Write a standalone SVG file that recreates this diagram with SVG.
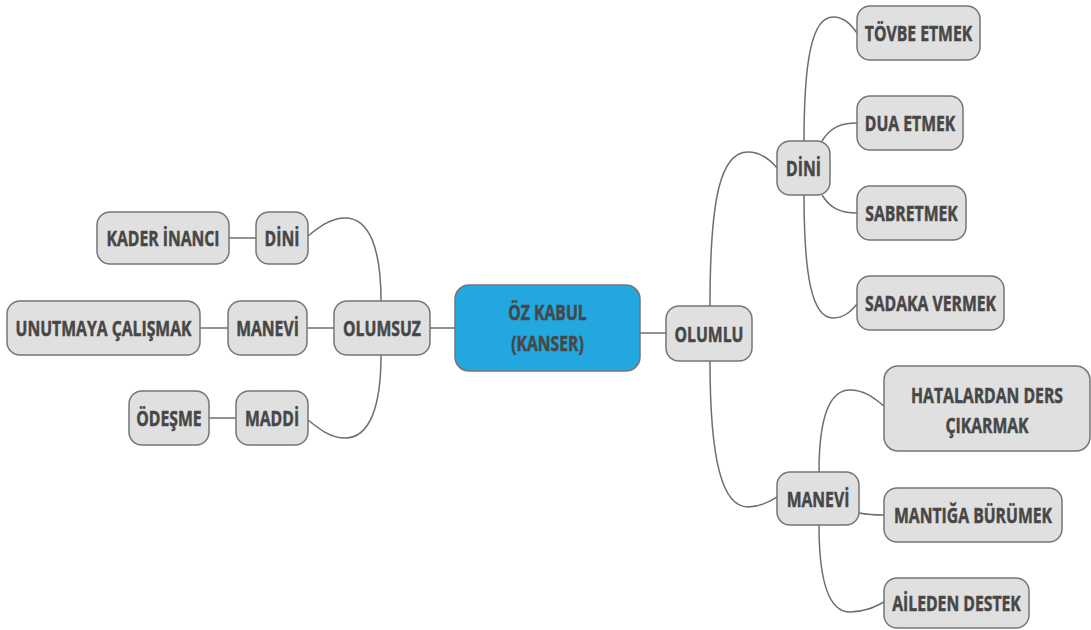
<svg xmlns="http://www.w3.org/2000/svg" width="1091" height="630" viewBox="0 0 1091 630">
<style>
.n rect{fill:#e0e0e0;stroke:#767676;stroke-width:1.5}
.c rect{fill:#22a7df;stroke:#767676;stroke-width:1.5}
text{font-family:"Open Sans","Liberation Sans",sans-serif;font-weight:bold;font-size:21px;fill:#474747;stroke:#474747;stroke-width:0.5;text-anchor:middle}
.e path{fill:none;stroke:#6e6e6e;stroke-width:1.5}
</style>
<rect width="1091" height="630" fill="#ffffff"/>
<g class="e" id="connectors">
<path d="M640 333 L666 333"/>
<path d="M430 328 L455 328"/>
<path d="M307 328 L334 328"/>
<path d="M200 328 L228 328"/>
<path d="M229 238 L256 238"/>
<path d="M209 418 L236 418"/>
<path d="M381 301 C381 250 370 218 345 218 C330 218 318 228 308 236"/>
<path d="M381 355 C381 406 370 438 345 438 C330 438 318 428 308 420"/>
<path d="M710 306 C710 200 720 152 748 152 C762 152 772 162 777 168"/>
<path d="M804 141 C804 60 812 17 833 17 C845 17 852 26 857 33"/>
<path d="M804 195 C804 276 812 318 833 318 C845 318 852 310 857 304"/>
<path d="M822 141 C830 128 840 123 857 123"/>
<path d="M822 195 C830 208 840 213 857 213"/>
<path d="M710 361 C710 460 722 507 748 507 C762 507 772 500 777 497"/>
<path d="M819 472 C819 420 828 390 850 390 C866 390 876 400 884 406"/>
<path d="M819 525 C819 580 828 612 850 612 C866 612 876 606 884 602"/>
<path d="M859 513 C870 515 875 515 884 515"/>
</g>
<g class="c" id="center"><rect x="455" y="285" width="185" height="86" rx="14"/>
<text transform="translate(547.5,319.5) scale(0.75,1)">ÖZ KABUL</text>
<text transform="translate(547.5,350.5) scale(0.75,1)">(KANSER)</text></g>
<g class="n" id="olumlu"><rect x="666" y="306" width="86" height="55" rx="13"/><text transform="translate(709,341.5) scale(0.75,1)">OLUMLU</text></g>
<g class="n" id="olumsuz"><rect x="334" y="301" width="96" height="54" rx="13"/><text transform="translate(382,336) scale(0.75,1)">OLUMSUZ</text></g>
<g class="n" id="manevi-l"><rect x="228" y="301" width="79" height="54" rx="13"/><text transform="translate(267.5,336) scale(0.75,1)">MANEVİ</text></g>
<g class="n" id="unutmaya"><rect x="7" y="301" width="193" height="54" rx="13"/><text transform="translate(103.5,336) scale(0.75,1)">UNUTMAYA ÇALIŞMAK</text></g>
<g class="n" id="dini-l"><rect x="256" y="212" width="52" height="52" rx="13"/><text transform="translate(282,246) scale(0.75,1)">DİNİ</text></g>
<g class="n" id="kader"><rect x="97" y="212" width="132" height="52" rx="13"/><text transform="translate(163,246) scale(0.75,1)">KADER İNANCI</text></g>
<g class="n" id="maddi"><rect x="236" y="391" width="72" height="54" rx="13"/><text transform="translate(272,426) scale(0.75,1)">MADDİ</text></g>
<g class="n" id="odesme"><rect x="129" y="391" width="80" height="54" rx="13"/><text transform="translate(169,426) scale(0.75,1)">ÖDEŞME</text></g>
<g class="n" id="dini-r"><rect x="777" y="141" width="53" height="54" rx="13"/><text transform="translate(803.5,176) scale(0.75,1)">DİNİ</text></g>
<g class="n" id="tovbe"><rect x="857" y="6" width="123" height="54" rx="13"/><text transform="translate(918.5,41) scale(0.75,1)">TÖVBE ETMEK</text></g>
<g class="n" id="dua"><rect x="857" y="96" width="106" height="54" rx="13"/><text transform="translate(910,131) scale(0.75,1)">DUA ETMEK</text></g>
<g class="n" id="sabretmek"><rect x="857" y="186" width="109" height="54" rx="13"/><text transform="translate(911.5,221) scale(0.75,1)">SABRETMEK</text></g>
<g class="n" id="sadaka"><rect x="857" y="276" width="147" height="54" rx="13"/><text transform="translate(930.5,311) scale(0.75,1)">SADAKA VERMEK</text></g>
<g class="n" id="manevi-r"><rect x="777" y="472" width="82" height="53" rx="13"/><text transform="translate(818,506.5) scale(0.75,1)">MANEVİ</text></g>
<g class="n" id="hatalardan"><rect x="884" y="366" width="206" height="85" rx="14"/>
<text transform="translate(987,402.5) scale(0.75,1)">HATALARDAN DERS</text>
<text transform="translate(987,432.5) scale(0.75,1)">ÇIKARMAK</text></g>
<g class="n" id="mantiga"><rect x="884" y="488" width="178" height="54" rx="13"/><text transform="translate(973,523) scale(0.75,1)">MANTIĞA BÜRÜMEK</text></g>
<g class="n" id="aileden"><rect x="884" y="578" width="145" height="50" rx="13"/><text transform="translate(956.5,611) scale(0.75,1)">AİLEDEN DESTEK</text></g>
</svg>
